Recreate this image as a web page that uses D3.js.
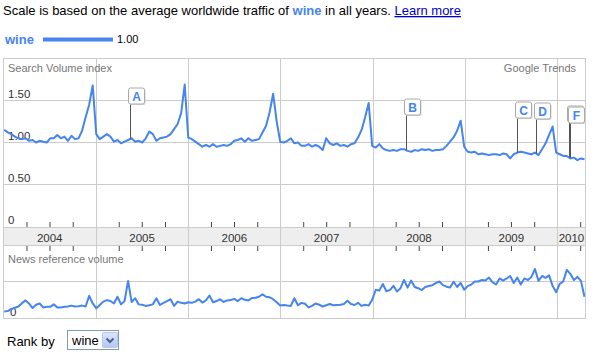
<!DOCTYPE html>
<html><head><meta charset="utf-8">
<script src="https://cdn.jsdelivr.net/npm/d3@7"></script>
<style>
body{margin:0;background:#fff;}
svg{display:block;}
</style></head><body>
<svg id="c" width="597" height="361"></svg>
<script>
// ---------- DATA ----------
const seriesName = "wine";
const legendValue = "1.00";
const startDate = "2004-01-04";   // first sample
const stepDays = 14;              // spacing of samples
const searchValues = [
1.15,1.12,1.10,1.07,1.05,1.04,1.05,1.02,1.03,1.00,1.02,1.01,1.00,1.05,1.05,1.09,1.05,1.07,1.02,1.08,1.04,1.05,1.14,1.30,1.45,1.68,
1.10,1.04,1.07,1.10,1.07,1.01,1.03,0.99,1.01,1.03,1.05,1.01,1.02,1.00,1.05,1.13,1.10,1.02,1.05,1.06,1.07,1.10,1.16,1.22,1.35,1.69,
1.06,1.04,1.01,0.98,0.95,0.97,0.95,0.98,0.95,0.96,0.97,0.96,0.98,1.02,1.03,1.05,1.01,1.05,1.02,1.03,1.04,1.12,1.20,1.36,1.58,1.25,
1.01,1.00,1.02,1.05,0.99,1.00,0.96,0.96,0.98,0.95,0.97,0.95,0.91,1.05,0.99,0.97,0.99,0.96,0.97,0.95,0.98,0.99,1.06,1.15,1.30,1.47,
0.96,0.94,0.98,0.93,0.91,0.90,0.91,0.90,0.92,0.92,0.90,0.89,0.91,0.90,0.92,0.91,0.92,0.90,0.91,0.91,0.92,0.96,1.01,1.06,1.14,1.26,
0.95,0.89,0.88,0.89,0.86,0.87,0.86,0.85,0.86,0.86,0.85,0.87,0.86,0.81,0.86,0.88,0.89,0.88,0.87,0.86,0.88,0.85,0.92,0.99,1.09,1.19,
0.88,0.86,0.84,0.84,0.81,0.82,0.79,0.81,0.80];
const newsValues = [
0.02,0.03,0.10,0.14,0.18,0.29,0.38,0.28,0.13,0.24,0.28,0.15,0.17,0.17,0.25,0.15,0.15,0.17,0.18,0.21,0.18,0.19,0.21,0.18,0.53,0.28,
0.12,0.23,0.34,0.39,0.36,0.28,0.50,0.25,0.36,1.02,0.33,0.45,0.25,0.24,0.20,0.22,0.25,0.45,0.23,0.30,0.36,0.42,0.20,0.34,0.30,0.28,
0.32,0.30,0.34,0.42,0.31,0.38,0.54,0.32,0.36,0.42,0.33,0.38,0.39,0.43,0.36,0.45,0.40,0.38,0.46,0.47,0.50,0.58,0.50,0.48,0.42,0.32,
0.21,0.23,0.21,0.20,0.45,0.22,0.30,0.27,0.15,0.20,0.28,0.24,0.18,0.22,0.26,0.22,0.23,0.24,0.26,0.37,0.26,0.23,0.30,0.20,0.24,0.21,
0.40,0.73,0.70,0.92,0.68,0.72,0.86,0.67,0.78,1.05,0.80,1.03,0.82,0.78,0.72,0.82,0.85,0.88,0.95,1.00,0.88,0.83,0.80,0.99,0.82,0.95,
0.73,0.85,0.90,1.00,1.00,1.05,1.03,1.13,0.98,0.90,1.10,1.03,1.10,1.18,0.95,1.13,0.90,1.10,1.05,1.15,1.41,1.02,1.18,1.12,1.20,0.85,
0.65,0.92,1.00,1.38,1.25,1.05,1.15,1.02,0.50];
const yearLabels = ["2004","2005","2006","2007","2008","2009","2010"];
const searchTicks = [0, 0.5, 1, 1.5];
const searchTickLabels = ["0","0.50","1.00","1.50"];
const newsTicks = [0];
const newsTickLabels = ["0"];
const markerLetters = ["A","B","C","D","E","F"];
const markerDates = ["2005-05-17","2008-05-11","2009-07-25","2009-10-10","2010-02-14","2010-02-19"];

// ---------- LAYOUT ----------
const FONT = "Arial, 'Liberation Sans', sans-serif";
const BLUE = "#4684ee";
const GRID = "#cccccc";
const L = 3.5, R = 585.5, TOP = 58.5, SB = 227.5, BB = 245.5, NB = 318.5;

const svg = d3.select("#c").attr("font-family", FONT);

const parse = d3.utcParse("%Y-%m-%d");
const t0 = parse(startDate);
const searchData = searchValues.map((v,i)=>({date: d3.utcDay.offset(t0, i*stepDays), v}));
const newsData = newsValues.map((v,i)=>({date: d3.utcDay.offset(t0, i*stepDays), v}));

const x = d3.scaleUtc().domain([new Date(Date.UTC(2004,0,1)), new Date(Date.UTC(2010,3,22))]).range([L, R]);
const yS = d3.scaleLinear().domain([0, 1.5]).range([226.5, 100.5]);
const yN = d3.scaleLinear().domain([0, 1]).range([312, 281.5]);

// ---------- HEADER ----------
const title = svg.append("text").attr("x", 3).attr("y", 15).attr("font-size", 13).attr("fill", "#000");
title.append("tspan").text("Scale is based on the average worldwide traffic of ");
title.append("tspan").attr("fill", BLUE).attr("font-weight", "bold").text(seriesName);
title.append("tspan").text(" in all years. ");
title.append("tspan").attr("fill", "#0000cc").attr("text-decoration", "underline").text("Learn more");

svg.append("text").attr("x", 5).attr("y", 44).attr("font-size", 13).attr("font-weight", "bold")
  .attr("fill", BLUE).text(seriesName);
svg.append("rect").attr("x", 43).attr("y", 37.5).attr("width", 70).attr("height", 4).attr("fill", BLUE);
svg.append("text").attr("x", 117).attr("y", 43).attr("font-size", 11).attr("fill", "#000").text(legendValue);

// ---------- FRAME ----------
svg.append("rect").attr("x", L).attr("y", BB - 18).attr("width", R - L).attr("height", 18).attr("fill", "#eeeeee");

const years = d3.utcYear.range(new Date(Date.UTC(2005,0,1)), x.domain()[1]);
svg.append("g").selectAll("line").data(years).join("line")
  .attr("x1", d => Math.round(x(d)) + 0.5).attr("x2", d => Math.round(x(d)) + 0.5)
  .attr("y1", TOP).attr("y2", NB).attr("stroke", GRID);
svg.append("g").selectAll("line").data(searchTicks.filter(d => d > 0)).join("line")
  .attr("x1", L).attr("x2", R).attr("y1", d => yS(d)).attr("y2", d => yS(d)).attr("stroke", GRID);
svg.append("line").attr("x1", L).attr("x2", R).attr("y1", yN(1)).attr("y2", yN(1)).attr("stroke", GRID);
[SB, BB].forEach(yy => svg.append("line").attr("x1", L).attr("x2", R).attr("y1", yy).attr("y2", yy).attr("stroke", GRID));
svg.append("rect").attr("x", L).attr("y", TOP).attr("width", R - L).attr("height", NB - TOP)
  .attr("fill", "none").attr("stroke", GRID);

// quarter ticks
const qTicks = d3.utcMonth.every(3).range(x.domain()[0], x.domain()[1]).filter(d => d.getUTCMonth() !== 0);
const gTop = svg.append("g").attr("transform", `translate(0,${SB - 0.5})`)
  .call(d3.axisTop(x).tickValues(qTicks).tickFormat("").tickSize(5).tickSizeOuter(0));
const gBot = svg.append("g").attr("transform", `translate(0,${BB + 0.5})`)
  .call(d3.axisBottom(x).tickValues(qTicks).tickFormat("").tickSize(5).tickSizeOuter(0));
[gTop, gBot].forEach(g => { g.select(".domain").remove(); g.selectAll("line").attr("stroke", "#444"); });

// year labels
const yearStarts = yearLabels.map(s => new Date(Date.UTC(+s, 0, 1)));
svg.append("g").selectAll("text").data(yearLabels).join("text")
  .attr("x", (d, i) => (x(yearStarts[i]) + Math.min(R, x(d3.utcYear.offset(yearStarts[i], 1)))) / 2)
  .attr("y", 241.5).attr("text-anchor", "middle").attr("font-size", 11.5).attr("fill", "#333").text(d => d);

// y labels
const gy = svg.append("g").attr("transform", "translate(8,0)")
  .call(d3.axisRight(yS).tickValues(searchTicks).tickFormat((d, i) => searchTickLabels[i]).tickSize(0).tickPadding(0));
gy.attr("font-family", FONT).attr("font-size", 11.5);
gy.select(".domain").remove();
gy.selectAll("text").attr("dy", "-0.3em").attr("fill", "#333");

const gyn = svg.append("g").attr("transform", "translate(10,0)")
  .call(d3.axisRight(yN).tickValues(newsTicks).tickFormat((d, i) => newsTickLabels[i]).tickSize(0).tickPadding(0));
gyn.attr("font-family", FONT).attr("font-size", 11.5);
gyn.select(".domain").remove();
gyn.selectAll("text").attr("fill", "#333");

svg.append("text").attr("x", 8).attr("y", 72).attr("font-size", 11).attr("fill", "#777").text("Search Volume index");
svg.append("text").attr("x", 576).attr("y", 72).attr("font-size", 11).attr("fill", "#777")
  .attr("text-anchor", "end").text("Google Trends");
svg.append("text").attr("x", 8).attr("y", 263).attr("font-size", 11).attr("fill", "#777").text("News reference volume");

// ---------- LINES ----------
svg.append("clipPath").attr("id", "clipS").append("rect").attr("x", L).attr("y", TOP).attr("width", R - L).attr("height", SB - TOP);
svg.append("clipPath").attr("id", "clipN").append("rect").attr("x", L).attr("y", BB).attr("width", R - L).attr("height", NB - BB);

svg.append("path").datum(searchData).attr("clip-path", "url(#clipS)")
  .attr("d", d3.line().x(d => x(d.date)).y(d => yS(d.v)))
  .attr("fill", "none").attr("stroke", BLUE).attr("stroke-width", 2).attr("stroke-linejoin", "round");
svg.append("path").datum(newsData).attr("clip-path", "url(#clipN)")
  .attr("d", d3.line().x(d => x(d.date)).y(d => yN(d.v)))
  .attr("fill", "none").attr("stroke", BLUE).attr("stroke-width", 2).attr("stroke-linejoin", "round");

// ---------- MARKERS ----------
const bis = d3.bisector(d => d.date).left;
function valueAt(date) {
  const i = Math.max(1, Math.min(searchData.length - 1, bis(searchData, date)));
  const a = searchData[i - 1], b = searchData[i];
  const t = (date - a.date) / (b.date - a.date);
  return a.v + (b.v - a.v) * t;
}
const markers = markerLetters.map((l, i) => {
  const date = parse(markerDates[i]);
  return {l, date, v: valueAt(date)};
});
const STEM = 35, BOX = 16;
const mg = svg.append("g").selectAll("g").data(markers).join("g")
  .attr("transform", d => `translate(${Math.round(x(d.date)) + 0.5},0)`);
mg.append("line").attr("x1", 0).attr("x2", 0)
  .attr("y1", d => Math.round(yS(d.v) - STEM)).attr("y2", d => yS(d.v)).attr("stroke", "#555");
mg.append("rect").attr("x", -1).attr("y", d => Math.round(yS(d.v) - STEM - BOX) + 1)
  .attr("width", BOX).attr("height", BOX).attr("rx", 2).attr("fill", "#d4d4d4");
mg.append("rect").attr("x", -2).attr("y", d => Math.round(yS(d.v) - STEM - BOX))
  .attr("width", BOX).attr("height", BOX).attr("rx", 2).attr("fill", "#fff").attr("stroke", "#aaa");
mg.append("text").attr("x", -2 + BOX / 2).attr("y", d => Math.round(yS(d.v) - STEM - BOX) + 12.5)
  .attr("text-anchor", "middle").attr("font-size", 12).attr("font-weight", "bold").attr("fill", BLUE).text(d => d.l);

// ---------- RANK BY ----------
svg.append("text").attr("x", 7).attr("y", 346).attr("font-size", 13).attr("fill", "#000").text("Rank by");
svg.append("rect").attr("x", 67.5).attr("y", 330.5).attr("width", 51).attr("height", 19)
  .attr("fill", "#fff").attr("stroke", "#7f9db9");
svg.append("text").attr("x", 72).attr("y", 345).attr("font-size", 13).attr("fill", "#000").text(seriesName);
const grad = svg.append("linearGradient").attr("id", "btn").attr("x1", 0).attr("x2", 0).attr("y1", 0).attr("y2", 1);
grad.append("stop").attr("offset", 0).attr("stop-color", "#dbe6fd");
grad.append("stop").attr("offset", 1).attr("stop-color", "#b2c6f3");
svg.append("rect").attr("x", 102.5).attr("y", 332.5).attr("width", 15).attr("height", 15).attr("rx", 1)
  .attr("fill", "url(#btn)").attr("stroke", "#b8c9ef");
svg.append("path").attr("d", "M106.5,338.5 L110,342 L113.5,338.5").attr("fill", "none")
  .attr("stroke", "#4d6185").attr("stroke-width", 2);
</script>
</body></html>
